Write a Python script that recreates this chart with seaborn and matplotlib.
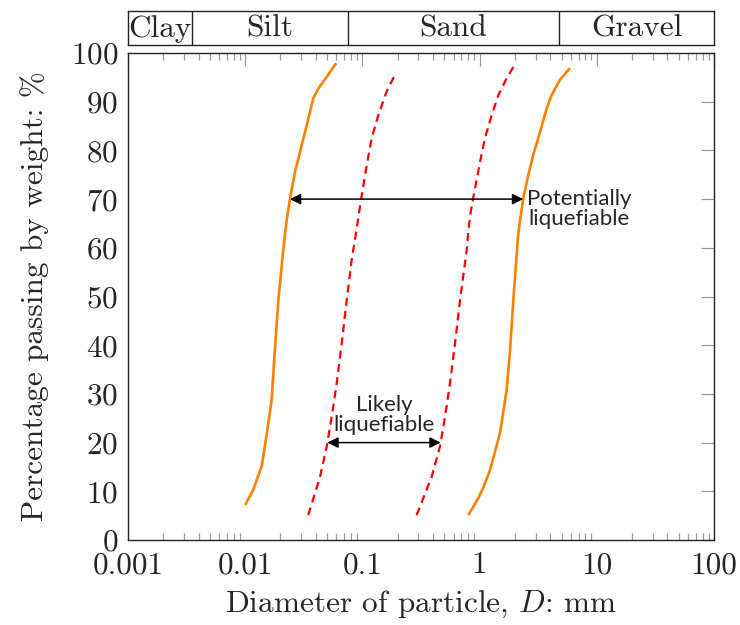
import numpy as np
import pandas as pd
import matplotlib
matplotlib.use("Agg")
import matplotlib.pyplot as plt
import seaborn as sns
from matplotlib.ticker import FixedLocator, FixedFormatter, NullFormatter

sns.set_style("white")
plt.rcParams["font.family"] = ["cmr10"]
plt.rcParams["mathtext.fontset"] = "cm"
plt.rcParams["axes.formatter.use_mathtext"] = True

# Grading envelope: outer (potentially liquefiable) bounds
outer_fine_d = [0.0100, 0.0117, 0.0138, 0.0153, 0.0168, 0.0179, 0.0192, 0.0211,
                0.0219, 0.0229, 0.0244, 0.0266, 0.0294, 0.0324, 0.0357, 0.0381,
                0.0421, 0.0496, 0.0596]
outer_fine_p = [7.2, 10.3, 15.1, 21.9, 28.7, 39.0, 49.3, 59.5,
                63.0, 66.7, 70.8, 75.6, 79.7, 83.8, 87.9, 90.7,
                92.7, 95.1, 97.9]
outer_coarse_d = [0.80, 0.975, 1.08, 1.23, 1.49, 1.70, 1.82, 1.94, 2.05,
                  2.13, 2.23, 2.36, 2.60, 2.87, 3.28, 3.73, 4.12, 4.85, 5.90]
outer_coarse_p = [5.1, 8.6, 10.9, 14.4, 21.9, 30.8, 39.0, 49.3, 57.0,
                  62.6, 66.1, 70.2, 74.9, 79.1, 83.8, 88.6, 91.4, 94.5, 96.9]

# Inner (likely liquefiable) bounds
inner_fine_d = [0.0345, 0.0435, 0.0496, 0.0547, 0.0604, 0.0666, 0.0735, 0.0810,
                0.0894, 0.0987, 0.109, 0.120, 0.137, 0.161, 0.192]
inner_fine_p = [5.1, 13.0, 19.2, 25.3, 32.2, 40.4, 49.3, 57.5,
                64.0, 70.8, 77.0, 82.5, 87.3, 92.1, 95.8]
inner_coarse_d = [0.290, 0.390, 0.459, 0.507, 0.559, 0.617, 0.681, 0.776,
                  0.800, 0.840, 0.914, 1.01, 1.11, 1.27, 1.45, 1.70, 2.03]
inner_coarse_p = [5.1, 13.0, 19.2, 25.3, 32.2, 40.4, 49.3, 59.5,
                  63.3, 67.4, 72.2, 77.7, 82.5, 87.3, 91.4, 94.8, 97.9]

# Soil classes (boundaries in mm)
soil_names = ["Clay", "Silt", "Sand", "Gravel"]
soil_edges = [0.001, 0.0035, 0.075, 4.75, 100]

x_ticks = [0.001, 0.01, 0.1, 1, 10, 100]
x_tick_labels = ["0.001", "0.01", "0.1", "1", "10", "100"]
y_ticks = list(range(0, 101, 10))

ORANGE = "#FF8000"
RED = "#FF0000"
SERIF_SIZE = 22.5
SANS_SIZE = 16

fig = plt.figure(figsize=(7.4, 6.25), dpi=100)
ax = fig.add_axes([128 / 740, 1 - 540 / 625, 586 / 740, 487 / 625])
band = fig.add_axes([128 / 740, 1 - 45 / 625, 586 / 740, 34 / 625])

curves = [
    (outer_fine_d, outer_fine_p, ORANGE, "-", 1.9),
    (outer_coarse_d, outer_coarse_p, ORANGE, "-", 1.9),
    (inner_fine_d, inner_fine_p, RED, (0, (3.6, 2.4)), 1.6),
    (inner_coarse_d, inner_coarse_p, RED, (0, (3.6, 2.4)), 1.6),
]
for d, p, c, ls, lw in curves:
    df = pd.DataFrame({"d": d, "p": p})
    sns.lineplot(data=df, x="d", y="p", ax=ax, color=c, linewidth=lw,
                 sort=False, estimator=None)
    ax.lines[-1].set_linestyle(ls)
    ax.lines[-1].set_solid_capstyle("butt")
    ax.lines[-1].set_dash_capstyle("butt")

ax.set_xscale("log")
ax.set_xlim(0.001, 100)
ax.set_ylim(0, 100)
ax.xaxis.set_major_locator(FixedLocator(x_ticks))
ax.xaxis.set_major_formatter(FixedFormatter(x_tick_labels))
minor = [m * 10.0 ** e for e in range(-3, 2) for m in range(2, 10)]
ax.xaxis.set_minor_locator(FixedLocator(minor))
ax.xaxis.set_minor_formatter(NullFormatter())
ax.yaxis.set_major_locator(FixedLocator(y_ticks))
ax.tick_params(axis="both", which="major", direction="in", length=9.5,
               width=0.9, color="#999999", labelsize=SERIF_SIZE, pad=7,
               top=True, right=True)
ax.tick_params(axis="x", which="major", pad=8)
ax.tick_params(axis="x", which="minor", direction="in", length=5,
               width=0.9, color="#999999", top=True, bottom=True)
for s in ax.spines.values():
    s.set_color("#222222")
    s.set_linewidth(1.0)
    s.set_visible(True)

ax.set_xlabel("Diameter of particle, $D$: mm", fontsize=SERIF_SIZE, labelpad=7)
ax.set_ylabel("Percentage passing by weight: %", fontsize=SERIF_SIZE)
ax.yaxis.set_label_coords(-0.135, 0.5)


def at_percent(d, p, target):
    return 10 ** np.interp(target, p, np.log10(d))


arrow = dict(arrowstyle="<|-|>", color="black", lw=1.1,
             mutation_scale=16, shrinkA=0, shrinkB=0)
x1 = at_percent(outer_fine_d, outer_fine_p, 70)
x2 = at_percent(outer_coarse_d, outer_coarse_p, 70)
ax.annotate("", xy=(x2, 70), xytext=(x1, 70), arrowprops=arrow)
ax.text(x2 * 1.08, 68.0, "Potentially\nliquefiable", ha="left", va="center",
        multialignment="center", family="Lato", fontsize=SANS_SIZE, linespacing=1.0)

x3 = at_percent(inner_fine_d, inner_fine_p, 20)
x4 = at_percent(inner_coarse_d, inner_coarse_p, 20)
ax.annotate("", xy=(x4, 20), xytext=(x3, 20), arrowprops=arrow)
ax.text(np.sqrt(x3 * x4), 21.6, "Likely\nliquefiable", ha="center", va="bottom",
        multialignment="center", family="Lato", fontsize=SANS_SIZE, linespacing=1.0)

# Classification band above the plot
band.set_xscale("log")
band.set_xlim(0.001, 100)
band.set_ylim(0, 1)
band.set_xticks([])
band.set_yticks([])
band.minorticks_off()
for s in band.spines.values():
    s.set_color("#222222")
    s.set_linewidth(1.0)
    s.set_visible(True)
for edge in soil_edges[1:-1]:
    band.axvline(edge, color="#222222", lw=1.0)
for name, lo, hi in zip(soil_names, soil_edges[:-1], soil_edges[1:]):
    band.text(np.sqrt(lo * hi), 0.47, name, ha="center", va="center",
              fontsize=SERIF_SIZE)

fig.savefig("out.png", dpi=100)
